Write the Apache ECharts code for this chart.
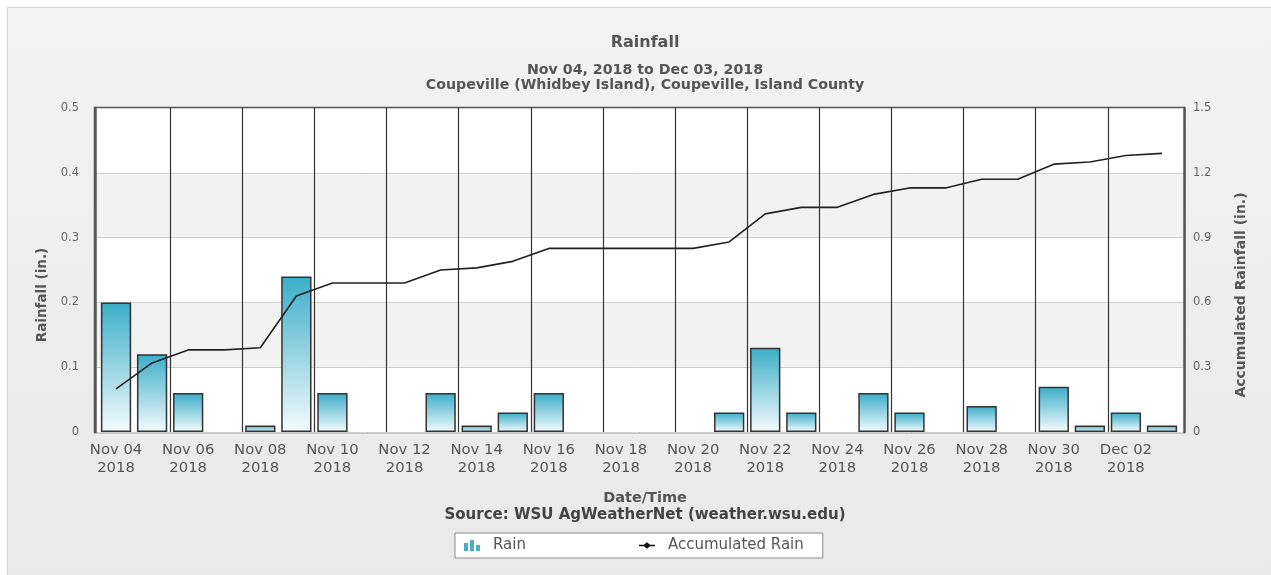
<!DOCTYPE html>
<html>
<head>
<meta charset="utf-8">
<script src="https://cdn.jsdelivr.net/npm/echarts@6/dist/echarts.min.js"></script>
<style>
html,body{margin:0;padding:0;background:#fff;}
#chart{width:1271px;height:575px;}
</style>
</head>
<body>
<div id="chart"></div>
<script>
const categories = ['Nov 04','Nov 05','Nov 06','Nov 07','Nov 08','Nov 09','Nov 10','Nov 11','Nov 12','Nov 13','Nov 14','Nov 15','Nov 16','Nov 17','Nov 18','Nov 19','Nov 20','Nov 21','Nov 22','Nov 23','Nov 24','Nov 25','Nov 26','Nov 27','Nov 28','Nov 29','Nov 30','Dec 01','Dec 02','Dec 03'];
const rain = [0.20,0.12,0.06,0,0.01,0.24,0.06,0,0,0.06,0.01,0.03,0.06,0,0,0,0,0.03,0.13,0.03,0,0.06,0.03,0,0.04,0,0.07,0.01,0.03,0.01];
const accumulated = [0.20,0.32,0.38,0.38,0.39,0.63,0.69,0.69,0.69,0.75,0.76,0.79,0.85,0.85,0.85,0.85,0.85,0.88,1.01,1.04,1.04,1.10,1.13,1.13,1.17,1.17,1.24,1.25,1.28,1.29];
const yearLabel = '2018';
const leftTicks = {min:0, max:0.5, interval:0.1};
const rightTicks = {min:0, max:1.5, interval:0.3};

const FONT = '"DejaVu Sans", Verdana, sans-serif';
const chart = echarts.init(document.getElementById('chart'), null, {renderer:'canvas'});

// zero-rain days draw no bar
const rainBars = rain.map(function(v){ return v === 0 ? '-' : v; });

const G = {top:108, bottom:143};
const option = {
  animation:false,
  textStyle:{fontFamily:FONT},
  graphic:[
    {type:'rect', z:-10, silent:true,
     shape:{x:7.5,y:7.5,width:1270,height:575},
     style:{
       fill:new echarts.graphic.LinearGradient(0,0,0,1,[{offset:0,color:'#f3f3f3'},{offset:1,color:'#e9e9e9'}]),
       stroke:'#d4d4d4', lineWidth:1
     }},
    {type:'text', silent:true, x:42, y:295, rotation:Math.PI/2,
     style:{text:'Rainfall (in.)', fill:'#555', font:'bold 13.5px '+FONT, align:'center', verticalAlign:'middle'}},
    {type:'text', silent:true, x:1241, y:295, rotation:Math.PI/2,
     style:{text:'Accumulated Rainfall (in.)', fill:'#555', font:'bold 14px '+FONT, align:'center', verticalAlign:'middle'}}
  ],
  title:[
    {text:'Rainfall', left:640, top:30, textAlign:'center',
     textStyle:{fontFamily:FONT, fontSize:16, fontWeight:'bold', color:'#555'}},
    {text:'Nov 04, 2018 to Dec 03, 2018\nCoupeville (Whidbey Island), Coupeville, Island County', left:640, top:58, textAlign:'center',
     textStyle:{fontFamily:FONT, fontSize:14.2, fontWeight:'bold', color:'#555', lineHeight:15}},
    {text:'Date/Time', left:640, top:486, textAlign:'center',
     textStyle:{fontFamily:FONT, fontSize:14.5, fontWeight:'bold', color:'#555'}},
    {text:'Source: WSU AgWeatherNet (weather.wsu.edu)', left:640, top:503, textAlign:'center',
     textStyle:{fontFamily:FONT, fontSize:15, fontWeight:'bold', color:'#444'}}
  ],
  legend:{
    left:455, top:533, itemGap:113,
    padding:[5,19,5,9],
    backgroundColor:'#fff', borderColor:'#8a8a8a', borderWidth:1, borderRadius:0,
    itemWidth:16, itemHeight:11,
    textStyle:{fontFamily:FONT, fontSize:15, color:'#555', padding:[0,0,0,8]},
    data:[
      {name:'Rain', icon:'path://M0,4H4V12H0Z M6,1H10V12H6Z M12,6H16V12H12Z', itemStyle:{color:'#4aaec6', borderWidth:0}},
      {name:'Accumulated Rain', icon:'path://M0,4.6H20V6.4H0Z M10,1.5L15,5.5L10,9.5L5,5.5Z', itemStyle:{color:'#111', borderWidth:0}}
    ]
  },
  grid:[
    {left:95, right:87, top:G.top, bottom:G.bottom, show:true, borderColor:'#555', borderWidth:2.5, backgroundColor:'transparent', z:0},
    {left:98, right:91, top:G.top, bottom:G.bottom}
  ],
  xAxis:[
    {type:'category', gridIndex:0, data:categories, show:false},
    {type:'category', gridIndex:1, data:categories, boundaryGap:true,
     axisLine:{show:false},
     axisTick:{show:false},
     axisLabel:{interval:1, fontFamily:FONT, fontSize:14.8, color:'#555', lineHeight:18, margin:9,
       formatter:function(v){return v+'\n'+yearLabel;}},
     splitLine:{show:true, interval:1, showMinLine:false, showMaxLine:false, lineStyle:{color:'#333', width:1.2}}
    }
  ],
  yAxis:[
    {type:'value', gridIndex:0, min:leftTicks.min, max:leftTicks.max, interval:leftTicks.interval,
     axisLine:{show:true, lineStyle:{color:'#555', width:2.5}},
     axisTick:{show:false},
     axisLabel:{fontFamily:FONT, fontSize:11.5, color:'#666', margin:16},
     splitLine:{show:true, lineStyle:{color:'#cfcfcf', width:1}},
     splitArea:{show:true, areaStyle:{color:['#ffffff','#f2f2f2']}}
    },
    {type:'value', gridIndex:0, min:rightTicks.min, max:rightTicks.max, interval:rightTicks.interval, position:'right',
     axisLine:{show:true, lineStyle:{color:'#555', width:2.5}},
     axisTick:{show:false},
     axisLabel:{fontFamily:FONT, fontSize:11.5, color:'#666', margin:9},
     splitLine:{show:false}
    },
    {type:'value', gridIndex:1, min:leftTicks.min, max:leftTicks.max, interval:leftTicks.interval, show:false, splitLine:{show:false}},
    {type:'value', gridIndex:1, min:rightTicks.min, max:rightTicks.max, interval:rightTicks.interval, show:false, splitLine:{show:false}}
  ],
  series:[
    {name:'Rain', type:'bar', data:rainBars, xAxisIndex:1, yAxisIndex:2, barCategoryGap:'16%',
     itemStyle:{
       color:new echarts.graphic.LinearGradient(0,0,0,1,[{offset:0,color:'#3badc9'},{offset:1,color:'#f4fbfd'}]),
       borderColor:'#333', borderWidth:1.5
     },
     z:2
    },
    {name:'Accumulated Rain', type:'line', data:accumulated, xAxisIndex:1, yAxisIndex:3,
     showSymbol:false, symbol:'none', lineStyle:{color:'#222', width:1.6}, itemStyle:{color:'#222'}, z:3}
  ]
};
chart.setOption(option);
</script>
</body>
</html>
